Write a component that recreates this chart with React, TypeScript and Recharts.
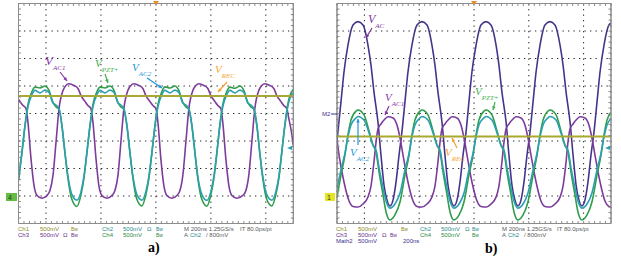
import React from "react";
import { CartesianGrid, Line, LineChart, ReferenceArea, XAxis, YAxis } from "recharts";

// Scope captures: time in ns (200 ns/div), amplitude in divisions (500 mV/div)

// a) left capture
const leftPztTime = [
  0, 25, 47, 69, 98, 120, 156, 193, 222, 251, 273, 295, 316, 338, 360, 389, 425,
  455, 476, 498, 520, 542, 571, 593, 629, 665, 695, 724, 745, 767, 789, 811, 833, 862, 898,
  927, 949, 971, 993, 1015, 1044, 1065, 1102, 1138, 1167, 1196, 1218, 1240, 1262, 1284, 1305, 1335, 1371,
  1400, 1422, 1444, 1465, 1487, 1516, 1538, 1575, 1611, 1640, 1669, 1691, 1713, 1735, 1756, 1778, 1807, 1844,
  1873, 1895, 1916, 1938, 1960, 1989, 2000,
];
const leftVpzt = [
  -2.46, -1.42, -0.44, 0.33, 0.8, 0.96, 0.93, 1.0, 0.84, 0.4, 0.24, 0.15, -0.44, -1.42, -2.36, -3.13, -3.38,
  -2.95, -2.36, -1.42, -0.44, 0.33, 0.8, 0.96, 0.93, 1.0, 0.84, 0.4, 0.24, 0.15, -0.44, -1.42, -2.36, -3.13, -3.36,
  -2.95, -2.36, -1.42, -0.44, 0.33, 0.8, 0.97, 0.93, 1.0, 0.84, 0.4, 0.24, 0.15, -0.44, -1.42, -2.36, -3.13, -3.37,
  -2.95, -2.36, -1.42, -0.44, 0.33, 0.8, 0.96, 0.92, 1.0, 0.84, 0.4, 0.24, 0.15, -0.44, -1.42, -2.36, -3.13, -3.36,
  -2.95, -2.36, -1.42, -0.44, 0.33, 0.8, 0.87,
];
const leftVac2 = [
  -2.38, -1.42, -0.47, 0.25, 0.69, 0.84, 0.75, 0.85, 0.76, 0.38, 0.31, 0.18, -0.44, -1.42, -2.29, -2.95, -3.15,
  -2.84, -2.29, -1.42, -0.47, 0.25, 0.69, 0.84, 0.75, 0.85, 0.76, 0.38, 0.31, 0.18, -0.44, -1.42, -2.29, -2.95, -3.15,
  -2.84, -2.29, -1.42, -0.47, 0.25, 0.69, 0.84, 0.75, 0.85, 0.76, 0.38, 0.31, 0.18, -0.44, -1.42, -2.29, -2.95, -3.16,
  -2.84, -2.29, -1.42, -0.47, 0.25, 0.69, 0.84, 0.75, 0.85, 0.76, 0.38, 0.31, 0.18, -0.44, -1.42, -2.29, -2.95, -3.15,
  -2.84, -2.29, -1.42, -0.47, 0.25, 0.69, 0.73,
];
const leftAc1Time = [
  0, 33, 55, 69, 91, 113, 135, 171,
  207, 229, 251, 273, 295, 324, 345, 367, 404, 433, 455, 484, 505, 527, 542, 564, 585, 607, 644,
  680, 702, 724, 745, 767, 796, 818, 840, 876, 905, 927, 956, 978, 1000, 1015, 1036, 1058, 1080, 1116,
  1153, 1175, 1196, 1218, 1240, 1269, 1291, 1313, 1349, 1378, 1400, 1429, 1451, 1473, 1487, 1509, 1531, 1553, 1589,
  1633, 1655, 1676, 1698, 1720, 1749, 1771, 1793, 1829, 1858, 1880, 1909, 1931, 1953, 1967, 1985, 2000,
];
const leftVac1 = [
  0.51, 0.29, 0.18, -0.33, -1.64, -2.62, -2.98, -3.08,
  -2.98, -2.8, -2.25, -1.05, 0.18, 0.84, 1.02, 1.08, 1.02, 0.91, 0.65, 0.44, 0.29, 0.18, -0.33, -1.64, -2.62, -2.98, -3.08,
  -2.98, -2.8, -2.25, -1.05, 0.18, 0.84, 1.02, 1.08, 1.02, 0.91, 0.65, 0.44, 0.29, 0.18, -0.33, -1.64, -2.62, -2.98, -3.08,
  -2.98, -2.8, -2.25, -1.05, 0.18, 0.84, 1.02, 1.08, 1.02, 0.91, 0.65, 0.44, 0.29, 0.18, -0.33, -1.64, -2.62, -2.98, -3.08,
  -2.98, -2.8, -2.25, -1.05, 0.18, 0.84, 1.02, 1.08, 1.02, 0.91, 0.65, 0.44, 0.29, 0.18, -0.18, -0.62, -1.16,
];
const leftVrec = [0.64, 0.64];

// b) right capture
const rightAcTime = [
  0, 29, 51, 80, 117, 153, 190, 226, 248, 270, 299, 321, 343, 365, 387,
  409, 431, 453, 474, 496, 518, 547, 584, 620, 657, 693, 715, 737, 766, 788, 810, 832, 854,
  876, 898, 920, 942, 963, 985, 1015, 1051, 1088, 1124, 1161, 1182, 1204, 1234, 1255, 1277, 1299, 1321,
  1343, 1365, 1387, 1409, 1431, 1453, 1482, 1518, 1555, 1591, 1628, 1650, 1672, 1701, 1723, 1745, 1766, 1788,
  1810, 1832, 1854, 1876, 1898, 1920, 1949, 1985, 2000,
];
const rightVac = [
  -1.0, 0.42, 1.51, 2.49, 3.22, 3.34, 3.22, 2.49, 1.76, 0.78, -0.31, -1.51, -2.6, -3.15, -3.36,
  -3.15, -2.49, -1.51, -0.67, 0.42, 1.51, 2.49, 3.22, 3.34, 3.22, 2.49, 1.76, 0.78, -0.31, -1.51, -2.6, -3.15, -3.36,
  -3.15, -2.49, -1.51, -0.67, 0.42, 1.51, 2.49, 3.22, 3.34, 3.22, 2.49, 1.76, 0.78, -0.31, -1.51, -2.6, -3.15, -3.36,
  -3.15, -2.49, -1.51, -0.67, 0.42, 1.51, 2.49, 3.22, 3.34, 3.22, 2.49, 1.76, 0.78, -0.31, -1.51, -2.6, -3.15, -3.36,
  -3.15, -2.49, -1.51, -0.67, 0.42, 1.51, 2.49, 3.22, 3.28,
];
const rightAc1Time = [
  0, 15, 51, 88, 117,
  153, 190, 226, 248, 270, 285, 299, 321, 350, 372, 409, 438, 460, 482, 518, 555, 584,
  620, 657, 693, 715, 737, 752, 766, 788, 818, 839, 876, 905, 927, 949, 985, 1022, 1051,
  1088, 1124, 1161, 1182, 1204, 1219, 1234, 1255, 1285, 1307, 1343, 1372, 1394, 1416, 1453, 1489, 1518,
  1555, 1591, 1628, 1650, 1672, 1686, 1701, 1723, 1752, 1774, 1810, 1839, 1861, 1883, 1920, 1956, 1985, 2000,
];
const rightVac1 = [
  -0.95, -1.51, -2.49, -3.18, -3.38,
  -3.4, -3.29, -3.04, -2.64, -1.76, -1.04, -0.56, -0.38, -0.2, -0.12, -0.16, -0.42, -0.89, -1.51, -2.49, -3.18, -3.38,
  -3.4, -3.29, -3.04, -2.64, -1.76, -1.04, -0.56, -0.38, -0.2, -0.12, -0.16, -0.42, -0.89, -1.51, -2.49, -3.18, -3.38,
  -3.4, -3.29, -3.04, -2.64, -1.76, -1.04, -0.56, -0.38, -0.2, -0.12, -0.16, -0.42, -0.89, -1.51, -2.49, -3.18, -3.38,
  -3.4, -3.29, -3.04, -2.64, -1.76, -1.04, -0.56, -0.38, -0.2, -0.12, -0.16, -0.42, -0.89, -1.51, -2.49, -3.18, -3.38, -3.4,
];
const rightPztTime = [
  0, 29, 58, 80, 102, 139,
  153, 197, 234, 263, 285, 307, 336, 358, 387, 423, 460, 496, 526, 547, 569, 606,
  620, 664, 701, 730, 752, 774, 803, 825, 854, 891, 927, 963, 993, 1015, 1036, 1073,
  1088, 1131, 1168, 1197, 1219, 1241, 1270, 1292, 1321, 1358, 1394, 1431, 1460, 1482, 1504, 1540,
  1555, 1599, 1635, 1664, 1686, 1708, 1737, 1759, 1788, 1825, 1861, 1898, 1927, 1949, 1971, 2000,
];
const rightVpzt = [
  -3.04, -2.24, -1.51, -0.78, -0.24, 0.09,
  0.13, -0.05, -0.64, -1.15, -1.4, -2.13, -2.96, -3.58, -3.87, -3.69, -3.22, -2.24, -1.51, -0.78, -0.24, 0.09,
  0.13, -0.05, -0.64, -1.15, -1.4, -2.13, -2.96, -3.58, -3.87, -3.69, -3.22, -2.24, -1.51, -0.78, -0.24, 0.09,
  0.13, -0.05, -0.64, -1.15, -1.4, -2.13, -2.96, -3.58, -3.87, -3.69, -3.22, -2.24, -1.51, -0.78, -0.24, 0.09,
  0.13, -0.05, -0.64, -1.15, -1.4, -2.13, -2.96, -3.58, -3.87, -3.69, -3.22, -2.24, -1.51, -0.78, -0.24, 0.05,
];
const rightVac2 = [
  -2.73, -2.05, -1.44, -0.85, -0.42, -0.16,
  -0.11, -0.24, -0.71, -1.15, -1.33, -1.98, -2.71, -3.18, -3.44, -3.29, -2.89, -2.05, -1.44, -0.85, -0.42, -0.16,
  -0.11, -0.24, -0.71, -1.15, -1.33, -1.98, -2.71, -3.18, -3.44, -3.29, -2.89, -2.05, -1.44, -0.85, -0.42, -0.16,
  -0.11, -0.24, -0.71, -1.15, -1.33, -1.98, -2.71, -3.18, -3.44, -3.29, -2.89, -2.05, -1.44, -0.85, -0.42, -0.16,
  -0.11, -0.24, -0.71, -1.15, -1.33, -1.98, -2.71, -3.18, -3.44, -3.29, -2.89, -2.05, -1.44, -0.85, -0.42, -0.18,
];
const rightVrec = [-0.84, -0.84];
const recTime = [0, 2000];

const majorX = [200, 400, 600, 800, 1000, 1200, 1400, 1600, 1800];
const majorY = [-3, -2, -1, 0, 1, 2, 3];
const minorX = Array.from({ length: 51 }, (_, i) => i * 40);
const minorY = Array.from({ length: 41 }, (_, i) => Math.round((i * 0.2 - 4) * 10) / 10);

const pairs = (t: number[], v: number[]) => t.map((x, i) => ({ t: x, v: v[i] }));
const table = (t: number[], a: number[], b: number[]) => t.map((x, i) => ({ t: x, a: a[i], b: b[i] }));

const C = {
  ac1: "#7d3b9a",
  ac: "#46348c",
  pzt: "#2f9d4a",
  ac2: "#2ba0b0",
  rec: "#a9a832",
  edge: "#8c8c8c",
};

const blank = () => "";

function frame() {
  const edge = {
    dataKey: "t",
    type: "number" as const,
    tickFormatter: blank,
    mirror: true,
    tickSize: 2.5,
    interval: 0 as const,
    allowDataOverflow: true,
    stroke: C.edge,
  };
  return [
    <XAxis key="x" dataKey="t" type="number" domain={[0, 2000]} ticks={majorX} hide allowDataOverflow />,
    <YAxis key="y" type="number" domain={[-4, 4]} ticks={majorY} hide allowDataOverflow />,
    <XAxis key="xb" xAxisId="b" orientation="bottom" domain={[0, 2000]} ticks={minorX} {...edge} />,
    <XAxis key="xt" xAxisId="t" orientation="top" domain={[0, 2000]} ticks={minorX} {...edge} />,
    <YAxis key="yl" yAxisId="l" orientation="left" domain={[-4, 4]} ticks={minorY} {...edge} dataKey="v" />,
    <YAxis key="yr" yAxisId="r" orientation="right" domain={[-4, 4]} ticks={minorY} {...edge} dataKey="v" />,
    <CartesianGrid key="g" stroke="#222" strokeDasharray="1.3 4.2" />,
    <ReferenceArea key="box" x1={0} x2={2000} y1={-4} y2={4} fill="none" stroke={C.edge} />,
  ];
}

const trace = { type: "monotone" as const, dot: false, isAnimationActive: false, strokeWidth: 1.6 };

function Sub({ x, y, main, sub, color, size = 11 }: { x: number; y: number; main: string; sub: string; color: string; size?: number }) {
  return (
    <text x={x} y={y} fill={color} fontFamily="'Liberation Serif', serif" fontStyle="italic" fontSize={size}>
      {main}
      <tspan fontSize={7} dy={4.5}>{sub}</tspan>
    </text>
  );
}

function Arrow({ x1, y1, x2, y2, color }: { x1: number; y1: number; x2: number; y2: number; color: string }) {
  const a = Math.atan2(y2 - y1, x2 - x1);
  const h = 4;
  const p1 = `${x2 - h * Math.cos(a - 0.45)},${y2 - h * Math.sin(a - 0.45)}`;
  const p2 = `${x2 - h * Math.cos(a + 0.45)},${y2 - h * Math.sin(a + 0.45)}`;
  return (
    <g>
      <line x1={x1} y1={y1} x2={x2} y2={y2} stroke={color} strokeWidth={1.2} />
      <polygon points={`${x2},${y2} ${p1} ${p2}`} fill={color} />
    </g>
  );
}

function T({ x, y, c, s = 6, children }: { x: number; y: number; c: string; s?: number; children: React.ReactNode }) {
  return (
    <text x={x} y={y} fill={c} fontSize={s} fontFamily="'Liberation Sans', Arial, sans-serif">
      {children}
    </text>
  );
}

const olive = "#8a8a1e";
const teal = "#1f8a8f";
const purple = "#6b2d8a";
const green = "#2a8a3e";
const gray = "#5a5a5a";
const indigo = "#3c3090";

export default function App() {
  const lPzt = table(leftPztTime, leftVpzt, leftVac2);
  const rPzt = table(rightPztTime, rightVpzt, rightVac2);
  return (
    <div style={{ position: "absolute", left: 0, top: 0, width: 621, height: 261, background: "#fff" }}>
      <div style={{ position: "absolute", left: 0, top: 0 }}>
        <LineChart width={310} height={261} margin={{ top: 3.5, right: 16.7, bottom: 37.5, left: 18.5 }}>
          {frame()}
          <Line data={pairs(leftAc1Time, leftVac1)} dataKey="v" stroke={C.ac1} {...trace} />
          <Line data={lPzt} dataKey="a" stroke={C.pzt} {...trace} />
          <Line data={lPzt} dataKey="b" stroke={C.ac2} {...trace} />
          <Line data={pairs(recTime, leftVrec)} dataKey="v" xAxisId="b" yAxisId="l" stroke={C.rec} {...trace} strokeWidth={2} type="linear" />
        </LineChart>
      </div>
      <div style={{ position: "absolute", left: 310, top: 0 }}>
        <LineChart width={311} height={261} margin={{ top: 3.5, right: 10, bottom: 37.5, left: 27 }}>
          {frame()}
          <Line data={pairs(rightAcTime, rightVac)} dataKey="v" stroke={C.ac} {...trace} />
          <Line data={pairs(rightAc1Time, rightVac1)} dataKey="v" stroke={C.ac1} {...trace} />
          <Line data={rPzt} dataKey="a" stroke={C.pzt} {...trace} />
          <Line data={rPzt} dataKey="b" stroke={C.ac2} {...trace} />
          <Line data={pairs(recTime, rightVrec)} dataKey="v" xAxisId="b" yAxisId="l" stroke={C.rec} {...trace} strokeWidth={2} type="linear" />
        </LineChart>
      </div>
      <svg width={621} height={261} style={{ position: "absolute", left: 0, top: 0, pointerEvents: "none" }}>
        {/* trigger position markers */}
        <polygon points="153,1 159,1 156,5" fill="#f08a24" />
        <polygon points="471,1 477,1 474,5" fill="#f08a24" />
        {/* channel ground markers */}
        <rect x={6} y={193} width={11} height={8} fill="#66bb44" />
        <text x={8} y={200} fontSize={7} fill="#1d3d1d" fontFamily="'Liberation Sans', sans-serif">4</text>
        <rect x={325} y={193} width={10} height={8} fill="#e4e424" />
        <text x={327} y={200} fontSize={7} fill="#333" fontFamily="'Liberation Sans', sans-serif">1</text>
        <text x={322} y={116} fontSize={6} fill={indigo} fontFamily="'Liberation Sans', sans-serif">M2</text>
        <line x1={331} y1={114} x2={337} y2={114} stroke={indigo} />
        <polygon points="287,148 292,146 292,150" fill={C.ac2} />
        <polygon points="605,148 610,146 610,150" fill={C.ac2} />

        {/* a) annotations */}
        <Sub x={45} y={65} main="V" sub="AC1" color="#8a35a6" size={13} />
        <Arrow x1={60} y1={72} x2={67} y2={81} color="#8a35a6" />
        <Sub x={95} y={67} main="V" sub="PZT+" color="#3cb04c" />
        <Arrow x1={105} y1={74} x2={108} y2={83} color="#3cb04c" />
        <Sub x={132} y={71} main="V" sub="AC2" color="#1f95d8" />
        <Arrow x1={147} y1={78} x2={162} y2={88} color="#1f95d8" />
        <Sub x={215} y={73} main="V" sub="REC" color="#f5a332" />
        <Arrow x1={227} y1={82} x2={218} y2={92} color="#f5a332" />

        {/* b) annotations */}
        <Sub x={368} y={23} main="V" sub="AC" color="#7a35a0" size={12} />
        <Arrow x1={372} y1={28} x2={366} y2={38} color="#7a35a0" />
        <Sub x={385} y={101} main="V" sub="AC1" color="#8a35a6" />
        <Arrow x1={389} y1={106} x2={385} y2={115} color="#8a35a6" />
        <Sub x={475} y={95} main="V" sub="PZT+" color="#3cb04c" />
        <Arrow x1={495} y1={102} x2={493} y2={110} color="#3cb04c" />
        <Sub x={350} y={156} main="V" sub="AC2" color="#1f95d8" />
        <Arrow x1={358} y1={145} x2={358} y2={119} color="#1f95d8" />
        <Sub x={445} y={156} main="V" sub="REC" color="#f5a332" />
        <Arrow x1={457} y1={148} x2={452} y2={138} color="#f5a332" />

        {/* a) status lines */}
        <T x={18} y={231} c={olive}>Ch1</T>
        <T x={40} y={231} c={olive}>500mV</T>
        <T x={71} y={231} c={olive} s={5}>Bw</T>
        <T x={102} y={231} c={teal}>Ch2</T>
        <T x={123} y={231} c={teal}>500mV</T>
        <T x={147} y={231} c={teal}>Ω</T>
        <T x={156} y={231} c={teal} s={5}>Bw</T>
        <T x={184} y={231} c={gray}>M 200ns 1.25GS/s</T>
        <T x={240} y={231} c={gray}>IT 80.0ps/pt</T>
        <T x={18} y={237} c={purple}>Ch3</T>
        <T x={40} y={237} c={purple}>500mV</T>
        <T x={63} y={237} c={purple}>Ω</T>
        <T x={71} y={237} c={purple} s={5}>Bw</T>
        <T x={102} y={237} c={green}>Ch4</T>
        <T x={123} y={237} c={green}>500mV</T>
        <T x={156} y={237} c={green} s={5}>Bw</T>
        <T x={184} y={237} c={gray}>A</T>
        <T x={190} y={237} c={teal}>Ch2</T>
        <T x={206} y={237} c={gray}>/ 800mV</T>

        {/* b) status lines */}
        <T x={336} y={231} c={olive}>Ch1</T>
        <T x={358} y={231} c={olive}>500mV</T>
        <T x={401} y={231} c={olive} s={5}>Bw</T>
        <T x={420} y={231} c={teal}>Ch2</T>
        <T x={441} y={231} c={teal}>500mV</T>
        <T x={465} y={231} c={teal}>Ω</T>
        <T x={472} y={231} c={teal} s={5}>Bw</T>
        <T x={502} y={231} c={gray}>M 200ns 1.25GS/s</T>
        <T x={557} y={231} c={gray}>IT 80.0ps/pt</T>
        <T x={336} y={237} c={purple}>Ch3</T>
        <T x={358} y={237} c={purple}>500mV</T>
        <T x={382} y={237} c={purple}>Ω</T>
        <T x={390} y={237} c={purple} s={5}>Bw</T>
        <T x={420} y={237} c={green}>Ch4</T>
        <T x={441} y={237} c={green}>500mV</T>
        <T x={472} y={237} c={green} s={5}>Bw</T>
        <T x={502} y={237} c={gray}>A</T>
        <T x={508} y={237} c={teal}>Ch2</T>
        <T x={524} y={237} c={gray}>/ 800mV</T>
        <T x={336} y={243} c={indigo}>Math2</T>
        <T x={358} y={243} c={indigo}>500mV</T>
        <T x={403} y={243} c={indigo}>200ns</T>

        <text x={148} y={252} fontSize={14} fontWeight="bold" fontFamily="'Liberation Serif', serif">a)</text>
        <text x={485} y={253} fontSize={14} fontWeight="bold" fontFamily="'Liberation Serif', serif">b)</text>
      </svg>
    </div>
  );
}
